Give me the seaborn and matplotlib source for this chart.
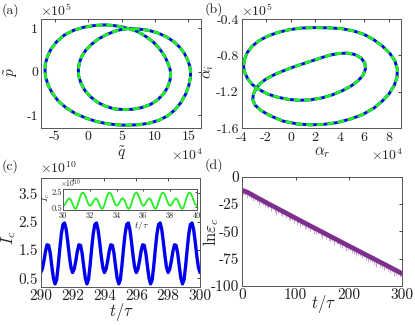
import numpy as np
import matplotlib
matplotlib.use("Agg")
import matplotlib.pyplot as plt
import seaborn as sns

# ---- data ----
# (a) q~ in units of 1e4, p~ in units of 1e5 (one closed trajectory, starts at the crossing)
q_a = [6.0, 7.4, 8.7, 9.8, 10.7, 11.4, 11.9, 12.25, 12.35, 12.25, 11.9, 11.3, 10.4, 9.3, 8.0,
       6.6, 5.25, 3.9, 2.6, 1.4, 0.4, -0.5, -1.1, -1.45, -1.5, -1.35, -0.95, -0.35, 0.5, 1.5,
       2.7, 4.0, 5.0, 6.0,
       7.5, 9.0, 10.4, 11.7, 12.8, 13.7, 14.4, 14.9, 15.2, 15.35, 15.3, 15.05, 14.6, 13.9, 13.0,
       11.9, 10.6, 9.1, 7.5, 5.9, 4.4, 2.8, 1.2, -0.4, -1.9, -3.3, -4.5, -5.4, -6.0, -6.4, -6.5,
       -6.45, -6.1, -5.6, -4.8, -3.6, -2.2, -0.7, 0.9, 2.4, 3.8, 5.0, 6.0]
p_a = [0.99, 0.92, 0.8, 0.67, 0.52, 0.37, 0.21, 0.06, -0.05, -0.2, -0.36, -0.51, -0.65, -0.76,
       -0.83, -0.87, -0.875, -0.86, -0.8, -0.71, -0.59, -0.44, -0.27, -0.1, 0.05, 0.2, 0.36, 0.5,
       0.63, 0.75, 0.85, 0.93, 0.97, 0.99,
       0.98, 0.95, 0.89, 0.8, 0.69, 0.56, 0.42, 0.27, 0.13, 0.0, -0.15, -0.33, -0.52, -0.71,
       -0.88, -1.02, -1.12, -1.19, -1.225, -1.235, -1.23, -1.2, -1.15, -1.07, -0.97, -0.84,
       -0.68, -0.5, -0.32, -0.14, 0.03, 0.18, 0.36, 0.52, 0.68, 0.84, 0.95, 1.02, 1.06, 1.075,
       1.06, 1.03, 0.99]

# (b) alpha_r in units of 1e4, alpha_i in units of 1e5
ar_b = [-3.78, -3.55, -3.15, -2.6, -1.9, -1.1, -0.2, 0.8, 1.9, 3.0, 4.1, 5.1, 6.0, 6.8, 7.5,
        8.1, 8.5, 8.7, 8.68, 8.45, 8.05, 7.5, 6.8, 5.9, 4.9, 3.8, 2.7, 1.6, 0.5, -0.6, -1.6,
        -2.4, -2.9, -3.1, -3.05, -2.85, -2.5, -2.0, -1.3, -0.5, 0.4, 1.3, 2.2, 3.1, 3.9, 4.6,
        5.2, 5.75, 6.05, 6.1, 5.9, 5.5, 4.9, 4.2, 3.4, 2.5, 1.6, 0.7, -0.2, -1.1, -1.9, -2.6,
        -3.15, -3.5, -3.75, -3.85, -3.78]
ai_b = [-0.85, -0.77, -0.70, -0.64, -0.59, -0.55, -0.52, -0.5, -0.495, -0.497, -0.505, -0.53,
        -0.57, -0.63, -0.7, -0.78, -0.86, -0.95, -1.04, -1.13, -1.22, -1.30, -1.38, -1.45, -1.5,
        -1.54, -1.56, -1.565, -1.555, -1.525, -1.47, -1.41, -1.35, -1.29, -1.23, -1.17, -1.11,
        -1.06, -1.01, -0.965, -0.92, -0.88, -0.84, -0.8, -0.78, -0.775, -0.79, -0.83, -0.885,
        -0.95, -1.02, -1.08, -1.14, -1.19, -1.235, -1.27, -1.29, -1.295, -1.285, -1.26, -1.225,
        -1.175, -1.12, -1.06, -0.99, -0.92, -0.85]

# (c) I_c in units of 1e10, sampled every 0.1 t/tau
t_c = np.linspace(290, 300, 101)
t_inset = np.linspace(30, 40, 101)
ic_c = [0.70, 0.82, 1.10, 1.45, 1.68, 1.66, 1.38, 0.92, 0.50, 0.30,
        0.45, 0.95, 1.55, 2.08, 2.40, 2.45, 2.22, 1.78, 1.28, 0.88,
        0.70, 0.82, 1.10, 1.45, 1.68, 1.66, 1.38, 0.92, 0.50, 0.30,
        0.45, 0.95, 1.55, 2.08, 2.40, 2.45, 2.22, 1.78, 1.28, 0.88,
        0.70, 0.82, 1.10, 1.45, 1.68, 1.66, 1.38, 0.92, 0.50, 0.30,
        0.45, 0.95, 1.55, 2.08, 2.40, 2.45, 2.22, 1.78, 1.28, 0.88,
        0.70, 0.82, 1.10, 1.45, 1.68, 1.66, 1.38, 0.92, 0.50, 0.30,
        0.45, 0.95, 1.55, 2.08, 2.40, 2.45, 2.22, 1.78, 1.28, 0.88,
        0.70, 0.82, 1.10, 1.45, 1.68, 1.66, 1.38, 0.92, 0.50, 0.30,
        0.45, 0.95, 1.55, 2.08, 2.40, 2.45, 2.22, 1.78, 1.28, 0.88,
        0.70]
ic_inset = ic_c  # inset trace looks the same

# (d) ln(eps_c) band and the downward spikes hanging under it
t_d = [0, 10, 25, 50, 75, 100, 125, 150, 175, 200, 225, 250, 275, 300]
ln_eps = [-12.5, -14.3, -18.4, -25.0, -31.4, -37.9, -44.3, -50.6, -57.0, -63.3, -69.6,
          -75.9, -82.2, -88.6]
spike_t = [2, 6, 9, 13, 16, 20, 24, 27, 31, 35,
           38, 42, 46, 49, 53, 57, 61, 64, 68, 72,
           75, 79, 83, 87, 90, 94, 98, 102, 105, 109,
           113, 117, 120, 124, 128, 132, 135, 139, 143, 147,
           150, 154, 158, 162, 165, 169, 173, 177, 180, 184,
           188, 192, 195, 199, 203, 207, 210, 214, 218, 222,
           225, 229, 233, 237, 240, 244, 248, 252, 255, 259,
           263, 267, 270, 274, 278, 282, 285, 289, 293, 297]
spike_len = [4, 3.5, 5, 3, 4.5, 5.5, 3.5, 4, 6, 3,
             4.5, 5, 3.5, 4, 5.5, 3, 4.5, 6, 3.5, 4,
             5, 3, 4.5, 5.5, 4, 3.5, 5, 6, 3, 4.5,
             4, 5.5, 3.5, 4, 5, 3, 6, 4.5, 3.5, 4,
             5.5, 3, 4.5, 5, 4, 3.5, 6, 4, 3, 5,
             4.5, 3.5, 5.5, 4, 3, 5, 4.5, 6, 3.5, 4,
             5, 3, 4.5, 5.5, 4, 3.5, 5, 6, 3, 4.5,
             4, 5.5, 3.5, 4, 5, 3, 6, 4.5, 3.5, 4]

# ---- style ----
sns.set_style("white")
plt.rcParams["font.family"] = ["cmr10", "DejaVu Serif"]
plt.rcParams["mathtext.fontset"] = "cm"
plt.rcParams["axes.unicode_minus"] = False
plt.rcParams["axes.formatter.use_mathtext"] = True

W, H = 415, 325
fig = plt.figure(figsize=(W / 100, H / 100), dpi=100)
fig.patch.set_facecolor("white")

def px_axes(l, t, r, b):
    return fig.add_axes([l / W, 1 - b / H, (r - l) / W, (b - t) / H])

def ftext(x, y, s, **kw):
    fig.text(x / W, 1 - y / H, s, ha="center", va="center", **kw)

def frame(ax, size=10):
    ax.tick_params(direction="in", top=True, right=True, length=2.5, width=0.6,
                   labelsize=size, pad=2, colors="#222222")
    for sp in ax.spines.values():
        sp.set_color("#555555")
        sp.set_linewidth(0.7)

def dashed_loop(ax, x, y):
    sns.lineplot(x=x, y=y, sort=False, estimator=None, color="#0000EE", lw=2.1,
                 solid_joinstyle="round", ax=ax)
    sns.lineplot(x=x, y=y, sort=False, estimator=None, color="#22EE22", lw=2.1,
                 linestyle=(0, (2.4, 1.2)), dash_joinstyle="round", ax=ax)

# (a)
ax_a = px_axes(41, 19, 201, 128)
dashed_loop(ax_a, q_a, p_a)
ax_a.set_xlim(-7.1, 16.9)
ax_a.set_ylim(-1.3, 1.21)
ax_a.set_xticks([-5, 0, 5, 10, 15], ["-5", "0", "5", "10", "15"])
ax_a.set_yticks([-1, 0, 1], ["-1", "0", "1"])
frame(ax_a)
ftext(10, 10, "(a)", fontsize=10)
ftext(56, 11, r"$\times10^{5}$", fontsize=10)
ftext(121, 153, r"$\tilde{q}$", fontsize=11)
ftext(187, 155, r"$\times10^{4}$", fontsize=10)
ftext(11, 72, r"$\tilde{p}$", fontsize=11, rotation=90)

# (b)
ax_b = px_axes(241.7, 19, 401, 128)
dashed_loop(ax_b, ar_b, ai_b)
ax_b.set_xlim(-4, 9)
ax_b.set_ylim(-1.6, -0.4)
ax_b.set_xticks([-4, -2, 0, 2, 4, 6, 8], ["-4", "-2", "0", "2", "4", "6", "8"])
ax_b.set_yticks([-1.6, -1.2, -0.8, -0.4], ["-1.6", "-1.2", "-0.8", "-0.4"])
frame(ax_b)
ax_b.tick_params(axis="x", pad=3)
ftext(214, 9, "(b)", fontsize=10)
ftext(257, 11, r"$\times10^{5}$", fontsize=10)
ftext(322, 153, r"$\alpha_r$", fontsize=11)
ftext(387, 155, r"$\times10^{4}$", fontsize=10)
ftext(209, 72, r"$\alpha_i$", fontsize=11, rotation=90)

# (c)
ax_c = px_axes(40.7, 177.7, 200, 286.7)
sns.lineplot(x=t_c, y=ic_c, estimator=None, color="#0000EE", lw=2.4, ax=ax_c)
ax_c.set_xlim(290, 300)
ax_c.set_ylim(0.2, 4.05)
ax_c.set_xticks([290, 292, 294, 296, 298, 300], ["290", "292", "294", "296", "298", "300"])
ax_c.set_yticks([0.5, 1.5, 2.5, 3.5], ["0.5", "1.5", "2.5", "3.5"])
frame(ax_c, size=11)
ftext(10, 166, "(c)", fontsize=10)
ftext(58, 168, r"$\times10^{10}$", fontsize=10)
ftext(121, 312, r"$t/\tau$", fontsize=12)
ftext(9, 238, r"$I_c$", fontsize=12, rotation=90)

ax_in = px_axes(63.3, 188.5, 196.7, 210)
sns.lineplot(x=t_inset, y=ic_inset, estimator=None, color="#22EE22", lw=1.3, ax=ax_in)
ax_in.set_xlim(30, 40)
ax_in.set_ylim(0.15, 3.0)
ax_in.set_xticks([30, 32, 34, 36, 38, 40], ["30", "32", "34", "36", "38", "40"])
ax_in.set_yticks([0.5, 2.5], ["0.5", "2.5"])
frame(ax_in, size=6)
ax_in.tick_params(length=1.5, pad=1)
ftext(71, 184, r"$\times10^{10}$", fontsize=5.5)
ftext(46, 197, r"$I_c$", fontsize=7, rotation=90)
ftext(142, 225, r"$t/\tau$", fontsize=7)

# (d)
ax_d = px_axes(242.3, 176.7, 402, 286)
spike_top = np.interp(spike_t, t_d, ln_eps)
ax_d.vlines(spike_t, spike_top - np.array(spike_len), spike_top, color="#C9A3D1", lw=0.7)
sns.lineplot(x=t_d, y=ln_eps, estimator=None, color="#7E2F8E", lw=3.4, ax=ax_d)
ax_d.set_xlim(0, 300)
ax_d.set_ylim(-100, 0)
ax_d.set_xticks([0, 100, 200, 300], ["0", "100", "200", "300"])
ax_d.set_yticks([-100, -75, -50, -25, 0], ["-100", "-75", "-50", "-25", "0"])
frame(ax_d, size=11)
ftext(214, 165, "(d)", fontsize=10)
ftext(323, 304, r"$t/\tau$", fontsize=12)
ftext(211, 232, r"$\mathrm{ln}\varepsilon_c$", fontsize=12, rotation=90)

for ax in (ax_a, ax_b, ax_c, ax_in, ax_d):
    ax.set_xlabel("")
    ax.set_ylabel("")

fig.savefig("out.png", dpi=100)
